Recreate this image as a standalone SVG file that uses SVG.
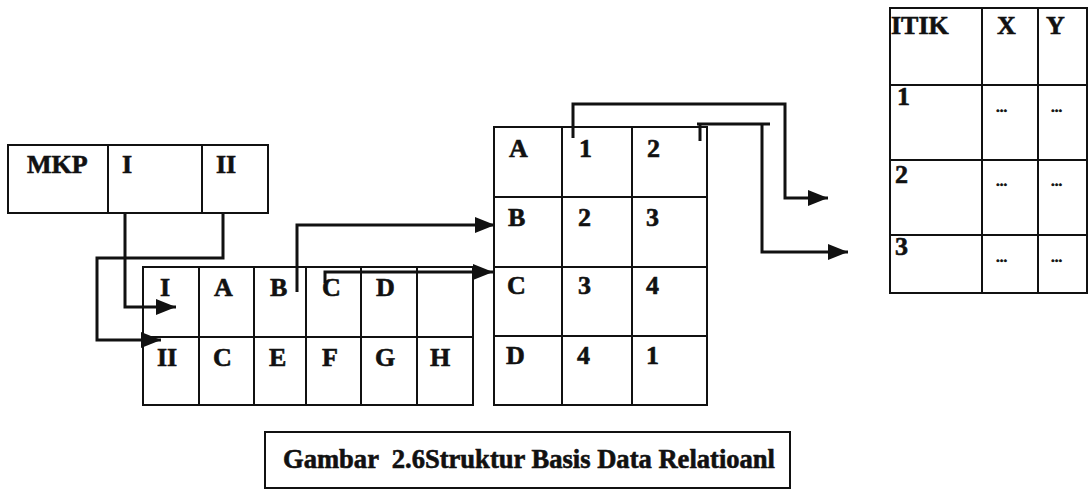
<svg xmlns="http://www.w3.org/2000/svg" width="1089" height="502" viewBox="0 0 1089 502">
  <style>
    .cell { fill: none; stroke: #111; stroke-width: 2; }
    .grid { stroke: #111; stroke-width: 2; }
    .lbl { font-family: "Times New Roman", "Liberation Serif", Tinos, serif; font-weight: 700; font-size: 26px; fill: #111; stroke: #111; stroke-width: 0.6; }
    .dots { font-family: "Times New Roman", "Liberation Serif", serif; font-weight: 700; font-size: 15px; fill: #111; stroke: #111; stroke-width: 0.6; }
    .wire { fill: none; stroke: #111; stroke-width: 3; }
    .cap { font-family: "Times New Roman", "Liberation Serif", Tinos, serif; font-weight: 700; font-size: 27px; fill: #111; stroke: #111; stroke-width: 0.6; }
  </style>
  <defs>
    <marker id="arrow" markerUnits="userSpaceOnUse" markerWidth="22" markerHeight="18" refX="20" refY="8" orient="auto">
      <path d="M0,0 L20,8 L0,16 Z" fill="#111"/>
    </marker>
  </defs>
  <rect width="1089" height="502" fill="#fff"/>

  <!-- MKP table -->
  <g id="mkp">
    <rect class="cell" x="8" y="145" width="260" height="68"/>
    <line class="grid" x1="108" y1="145" x2="108" y2="213"/>
    <line class="grid" x1="202" y1="145" x2="202" y2="213"/>
    <text class="lbl" x="27" y="173">MKP</text>
    <text class="lbl" x="122" y="173">I</text>
    <text class="lbl" x="216" y="173">II</text>
  </g>

  <!-- I / II list table -->
  <g id="list">
    <rect class="cell" x="143" y="267" width="330" height="138"/>
    <line class="grid" x1="143" y1="337" x2="473" y2="337"/>
    <line class="grid" x1="199" y1="267" x2="199" y2="405"/>
    <line class="grid" x1="254" y1="267" x2="254" y2="405"/>
    <line class="grid" x1="306" y1="267" x2="306" y2="405"/>
    <line class="grid" x1="361" y1="267" x2="361" y2="405"/>
    <line class="grid" x1="417" y1="267" x2="417" y2="405"/>
    <text class="lbl" x="160" y="296">I</text>
    <text class="lbl" x="214" y="296">A</text>
    <text class="lbl" x="270" y="296">B</text>
    <text class="lbl" x="322" y="296">C</text>
    <text class="lbl" x="376" y="296">D</text>
    <text class="lbl" x="157" y="366">II</text>
    <text class="lbl" x="213" y="366">C</text>
    <text class="lbl" x="269" y="366">E</text>
    <text class="lbl" x="322" y="366">F</text>
    <text class="lbl" x="375" y="366">G</text>
    <text class="lbl" x="430" y="366">H</text>
  </g>

  <!-- A-D segment table -->
  <g id="segments">
    <rect class="cell" x="494" y="127" width="213" height="278"/>
    <line class="grid" x1="562" y1="127" x2="562" y2="405"/>
    <line class="grid" x1="632" y1="127" x2="632" y2="405"/>
    <line class="grid" x1="494" y1="197" x2="707" y2="197"/>
    <line class="grid" x1="494" y1="267" x2="707" y2="267"/>
    <line class="grid" x1="494" y1="336" x2="707" y2="336"/>
    <text class="lbl" x="509" y="157">A</text>
    <text class="lbl" x="579" y="157">1</text>
    <text class="lbl" x="647" y="157">2</text>
    <text class="lbl" x="508" y="226">B</text>
    <text class="lbl" x="578" y="226">2</text>
    <text class="lbl" x="646" y="226">3</text>
    <text class="lbl" x="507" y="294">C</text>
    <text class="lbl" x="578" y="294">3</text>
    <text class="lbl" x="646" y="294">4</text>
    <text class="lbl" x="506" y="364">D</text>
    <text class="lbl" x="577" y="364">4</text>
    <text class="lbl" x="646" y="364">1</text>
  </g>

  <!-- TITIK coordinate table -->
  <g id="titik">
    <rect class="cell" x="890" y="8" width="197" height="285"/>
    <line class="grid" x1="982" y1="8" x2="982" y2="293"/>
    <line class="grid" x1="1038" y1="8" x2="1038" y2="293"/>
    <line class="grid" x1="890" y1="85" x2="1087" y2="85"/>
    <line class="grid" x1="890" y1="160" x2="1087" y2="160"/>
    <line class="grid" x1="890" y1="235" x2="1087" y2="235"/>
    <text class="lbl" x="891" y="34">ITIK</text>
    <text class="lbl" x="997" y="34">X</text>
    <text class="lbl" x="1046" y="34">Y</text>
    <text class="lbl" x="897" y="105">1</text>
    <text class="lbl" x="895" y="183">2</text>
    <text class="lbl" x="895" y="255">3</text>
    <text class="dots" x="996" y="112">...</text>
    <text class="dots" x="1051" y="112">...</text>
    <text class="dots" x="996" y="186">...</text>
    <text class="dots" x="1051" y="186">...</text>
    <text class="dots" x="996" y="262">...</text>
    <text class="dots" x="1051" y="262">...</text>
  </g>

  <!-- pointers between tables -->
  <g id="connectors">
    <path class="wire" d="M125,213 V307 H176" marker-end="url(#arrow)"/>
    <path class="wire" d="M223,213 V258 H97 V340 H161" marker-end="url(#arrow)"/>
    <path class="wire" d="M297,292 V225 H495" marker-end="url(#arrow)"/>
    <path class="wire" d="M325,283 V272 H493" marker-end="url(#arrow)"/>
    <path class="wire" d="M573,138 V104 H785 V198 H828" marker-end="url(#arrow)"/>
    <path class="wire" d="M700,141 V124"/>
    <path class="wire" d="M697,124 H770"/>
    <path class="wire" d="M762,124 V252 H848" marker-end="url(#arrow)"/>
  </g>

  <!-- caption -->
  <g id="caption">
    <rect class="cell" x="265" y="432" width="525" height="56"/>
    <text class="cap" x="283" y="468" xml:space="preserve" textLength="492" lengthAdjust="spacingAndGlyphs">Gambar  2.6Struktur Basis Data Relatioanl</text>
  </g>
</svg>
